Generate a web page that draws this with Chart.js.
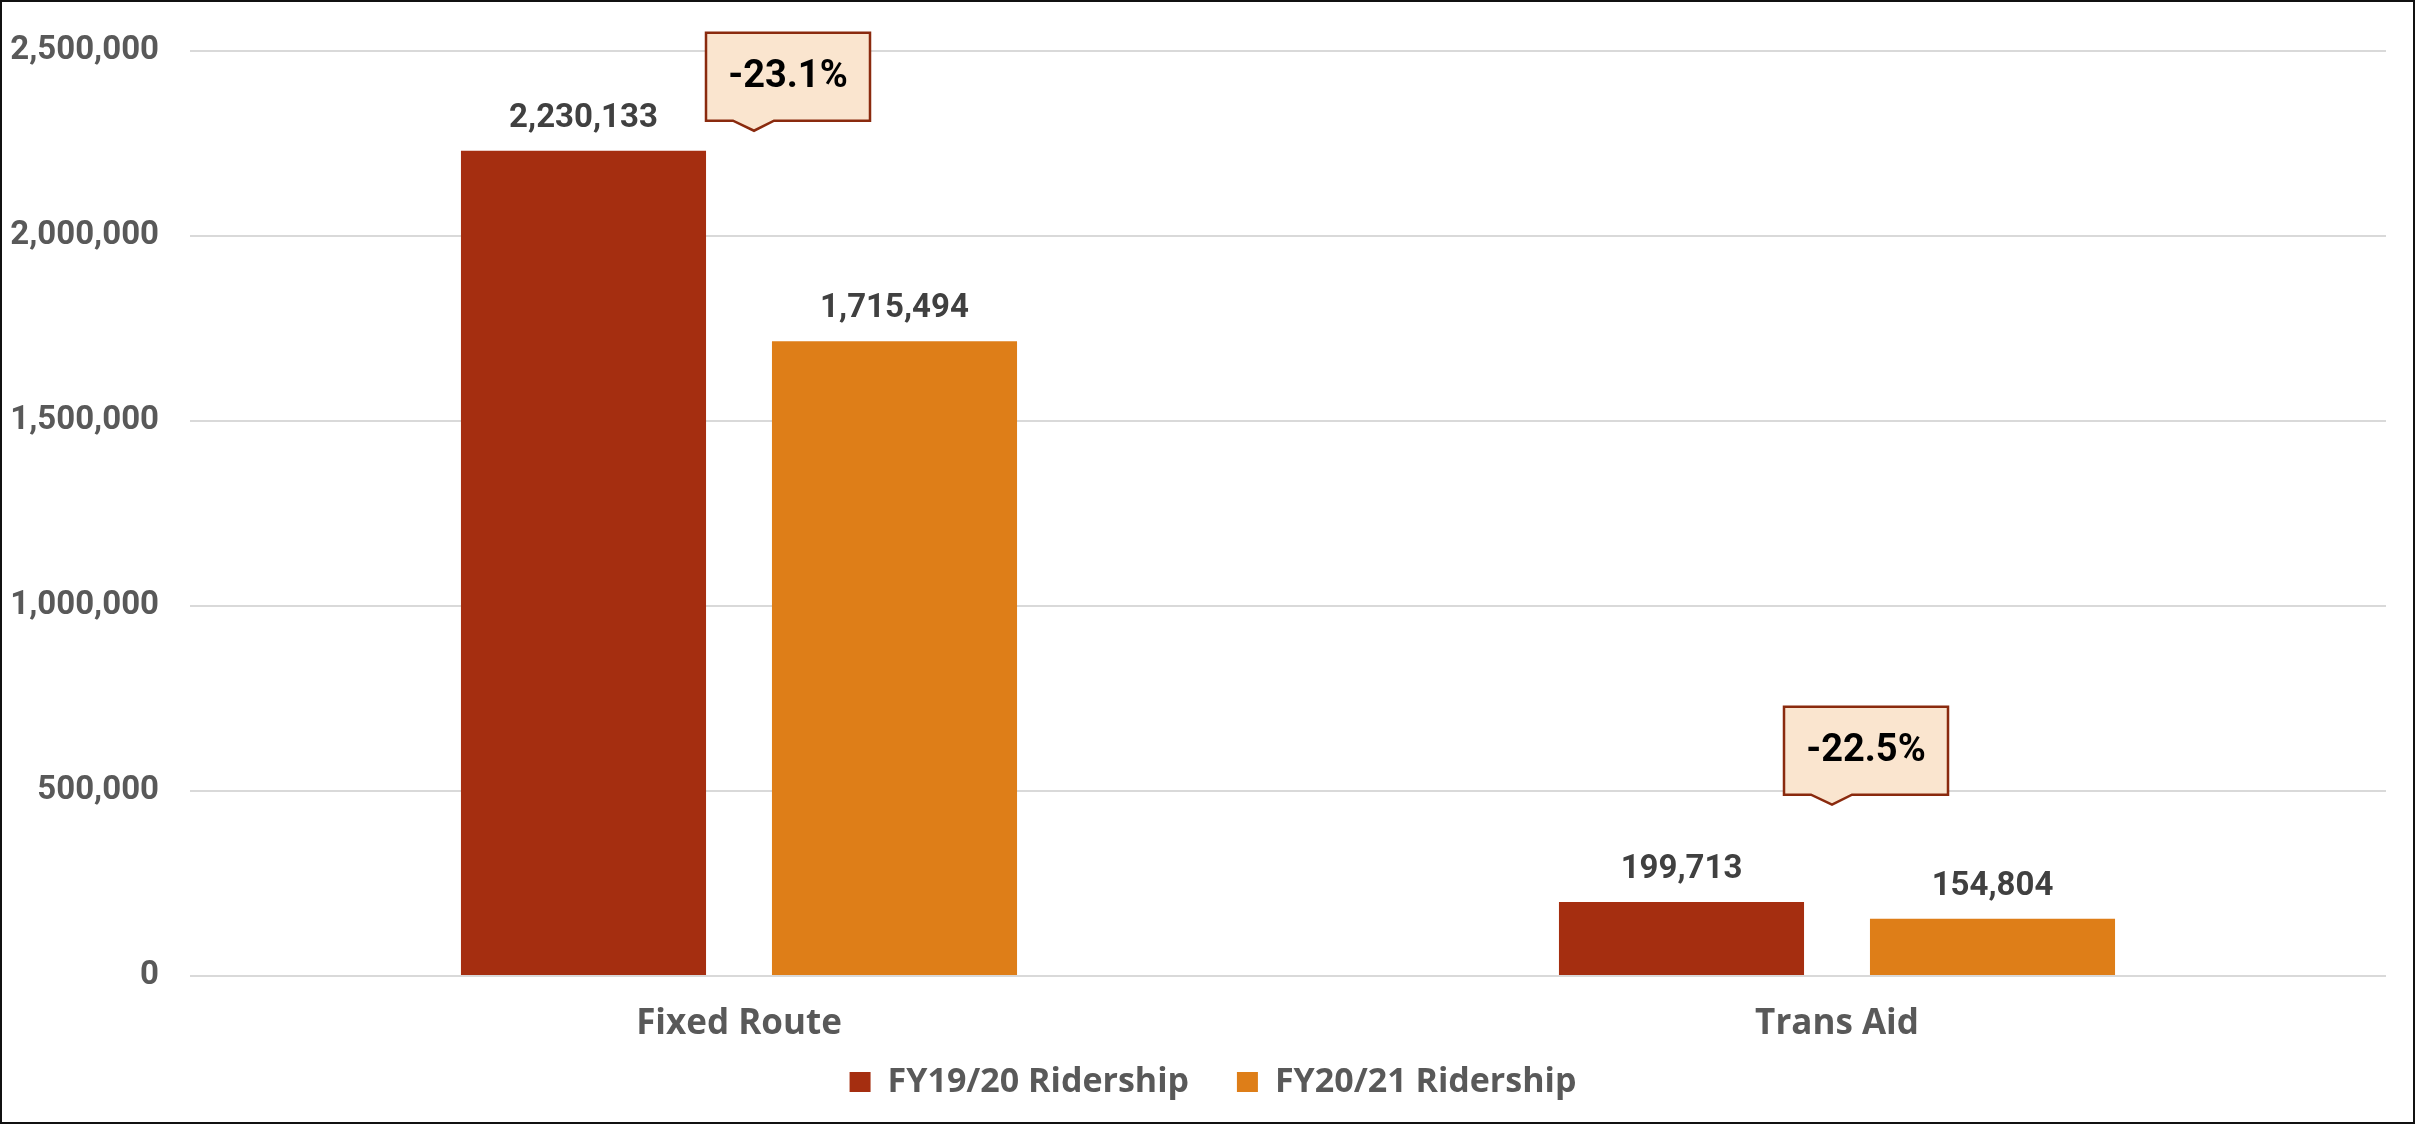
<!DOCTYPE html>
<html>
<head>
<meta charset="utf-8">
<script src="https://cdn.jsdelivr.net/npm/chart.js@4"></script>
<style>
  html, body { margin: 0; padding: 0; background: #fff; }
  #wrap { width: 2415px; height: 1124px; position: relative; }
  canvas { display: block; }
</style>
</head>
<body>
<div id="wrap"><canvas id="c" width="2415" height="1124"></canvas></div>
<script>
// ---- data ----
const categories = ['Fixed Route', 'Trans Aid'];
const seriesNames = ['FY19/20 Ridership', 'FY20/21 Ridership'];
const fy1920 = [2230133, 199713];
const fy2021 = [1715494, 154804];
const changeLabels = ['-23.1%', '-22.5%'];
const yTicks = [0, 500000, 1000000, 1500000, 2000000, 2500000];

// ---- styles ----
const FONT = "Roboto, 'Open Sans', sans-serif";
const FONT2 = "'Open Sans', Roboto, sans-serif";
const colors = ['#A52E10', '#DE7E18'];

const fmt = v => v.toLocaleString('en-US');

const frame = {
  id: 'frame',
  afterDraw(chart) {
    const ctx = chart.ctx;
    ctx.save();
    ctx.strokeStyle = '#111';
    ctx.lineWidth = 2;
    ctx.strokeRect(1, 1, chart.width - 2, chart.height - 2);
    ctx.restore();
  }
};

// centre the legend on the canvas rather than on the padded layout box
const legendShift = {
  id: 'legendShift',
  afterLayout(chart) {
    const lg = chart.legend;
    if (lg) { lg.left += 20; lg.right += 20; }
  }
};

const valueLabels = {
  id: 'valueLabels',
  afterDatasetsDraw(chart) {
    const ctx = chart.ctx;
    ctx.save();
    ctx.font = "bold 33px " + FONT;
    ctx.fillStyle = '#404040';
    ctx.textAlign = 'center';
    ctx.textBaseline = 'middle';
    chart.data.datasets.forEach((ds, di) => {
      chart.getDatasetMeta(di).data.forEach((bar, i) => {
        ctx.fillText(fmt(ds.data[i]), bar.x, bar.y - 32);
      });
    });
    ctx.restore();
  }
};

// callout placement (anchor value on y axis, pixel offset from category centre)
const calloutPlacement = [
  { yValue: 2284000, dx: 15 },
  { yValue: 463000, dx: -5 }
];

const callouts = {
  id: 'callouts',
  afterDatasetsDraw(chart) {
    const ctx = chart.ctx;
    const xs = chart.scales.x, ys = chart.scales.y;
    ctx.save();
    changeLabels.forEach((txt, i) => {
      const p = calloutPlacement[i];
      const tx = xs.getPixelForValue(i) + p.dx;
      const ty = ys.getPixelForValue(p.yValue);
      const left = tx - 48, right = tx + 116;
      const bottom = ty - 10, top = bottom - 88;
      ctx.beginPath();
      ctx.moveTo(left, top);
      ctx.lineTo(right, top);
      ctx.lineTo(right, bottom);
      ctx.lineTo(tx + 20, bottom);
      ctx.lineTo(tx, ty);
      ctx.lineTo(tx - 21, bottom);
      ctx.lineTo(left, bottom);
      ctx.closePath();
      ctx.fillStyle = '#FAE5CF';
      ctx.fill();
      ctx.lineWidth = 2.5;
      ctx.strokeStyle = '#8A2A0E';
      ctx.stroke();
      ctx.font = "bold 38px " + FONT;
      ctx.fillStyle = '#000';
      ctx.textAlign = 'center';
      ctx.textBaseline = 'middle';
      ctx.fillText(txt, (left + right) / 2, (top + bottom) / 2 + 1);
    });
    ctx.restore();
  }
};

new Chart(document.getElementById('c'), {
  type: 'bar',
  data: {
    labels: categories,
    datasets: [
      { label: seriesNames[0], data: fy1920, backgroundColor: colors[0] },
      { label: seriesNames[1], data: fy2021, backgroundColor: colors[1] }
    ]
  },
  options: {
    responsive: false,
    animation: false,
    devicePixelRatio: 1,
    categoryPercentage: 0.5665,
    barPercentage: 0.788,
    layout: { padding: { top: 41, right: 29, bottom: 15, left: 0 } },
    plugins: {
      legend: {
        position: 'bottom',
        labels: {
          font: { family: FONT2, size: 34, weight: 'bold' },
          color: '#595959',
          boxWidth: 21,
          boxHeight: 20,
          padding: 5,
          generateLabels(chart) {
            const items = Chart.defaults.plugins.legend.labels.generateLabels(chart);
            items.forEach((it, i) => {
              it.fontColor = '#595959';
              it.lineWidth = 0;
              if (i < items.length - 1) it.text = it.text + '\u2002\u2002 ';
            });
            return items;
          }
        }
      },
      tooltip: { enabled: false }
    },
    scales: {
      x: {
        grid: { display: false, drawTicks: false },
        border: { display: false },
        afterFit(scale) { scale.height = scale.height - 12; },
        ticks: {
          font: { family: FONT2, size: 35, weight: 'bold' },
          color: '#595959',
          padding: 27
        }
      },
      y: {
        min: 0,
        max: 2500000,
        afterBuildTicks(scale) { scale.ticks = yTicks.map(v => ({ value: v })); },
        afterFit(scale) { scale.width = 190; },
        grid: { color: '#D9D9D9', lineWidth: 2, drawTicks: false },
        border: { display: false },
        ticks: {
          font: { family: FONT, size: 33, weight: 'bold' },
          color: '#595959',
          padding: 31,
          callback: v => fmt(v)
        }
      }
    }
  },
  plugins: [frame, legendShift, valueLabels, callouts]
});
</script>
</body>
</html>
